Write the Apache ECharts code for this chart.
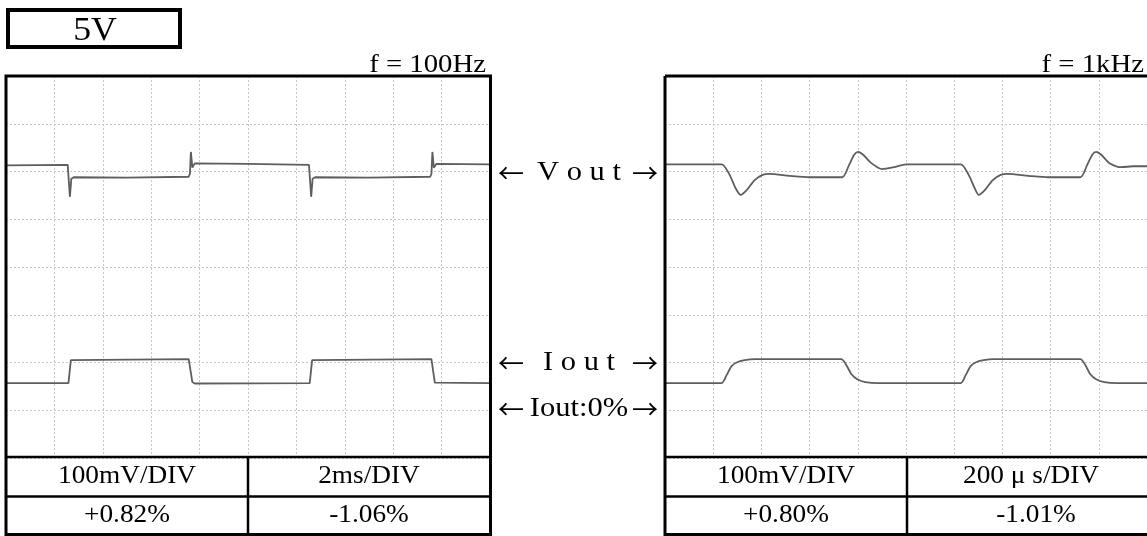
<!DOCTYPE html>
<html>
<head>
<meta charset="utf-8">
<script src="https://cdn.jsdelivr.net/npm/echarts@6/dist/echarts.min.js"></script>
<style>
  html, body { margin: 0; padding: 0; background: #fff; }
  #chart { width: 1147px; height: 536px; }
</style>
</head>
<body>
<div id="chart"></div>
<script>
// Oscilloscope traces, y in divisions (0..8), x in time units of each panel
// f = 100Hz panel: x in ms (2ms/DIV, 10 divisions)
const vout100 = [
  [0, 6.13], [2.55, 6.14], [2.60, 6.10], [2.64, 5.47], [2.70, 5.85], [2.80, 5.88],
  [5.0, 5.87], [7.55, 5.89], [7.60, 5.95], [7.64, 6.41], [7.70, 6.08], [7.80, 6.17],
  [10.0, 6.16], [12.52, 6.14], [12.57, 6.10], [12.61, 5.47], [12.67, 5.85], [12.77, 5.88],
  [15.0, 5.87], [17.53, 5.89], [17.58, 5.95], [17.62, 6.41], [17.68, 6.08], [17.78, 6.16],
  [20.0, 6.15]
];
const iout100 = [
  [0, 1.57], [2.58, 1.57], [2.68, 2.05], [2.75, 2.07], [7.55, 2.07], [7.60, 2.05],
  [7.70, 1.59], [7.80, 1.56], [12.55, 1.57], [12.65, 2.05], [12.72, 2.07], [17.58, 2.07],
  [17.62, 2.05], [17.72, 1.58], [20.0, 1.57]
];
// f = 1kHz panel: x in µs (200µs/DIV, 10 divisions)
const vout1k = [
  [0, 6.15], [235, 6.15], [268, 5.93], [293, 5.65], [314, 5.51], [339, 5.61], [372, 5.82],
  [405, 5.93], [434, 5.95], [516, 5.91], [599, 5.88], [735, 5.88], [764, 6.14], [785, 6.35],
  [802, 6.41], [822, 6.35], [855, 6.18], [901, 6.05], [950, 6.09], [1000, 6.15],
  [1227, 6.15], [1260, 5.93], [1285, 5.65], [1302, 5.51], [1327, 5.61], [1360, 5.82],
  [1393, 5.93], [1421, 5.95], [1508, 5.91], [1591, 5.88], [1723, 5.88], [1752, 6.14],
  [1773, 6.35], [1789, 6.41], [1810, 6.35], [1843, 6.18], [1893, 6.09], [1942, 6.11], [2000, 6.11]
];
const iout1k = [
  [0, 1.57], [235, 1.57], [256, 1.74], [277, 1.93], [302, 2.01], [331, 2.05], [372, 2.07],
  [731, 2.07], [752, 1.95], [773, 1.76], [798, 1.65], [831, 1.59], [888, 1.57],
  [1227, 1.57], [1248, 1.74], [1269, 1.93], [1293, 2.01], [1322, 2.05], [1364, 2.07],
  [1723, 2.07], [1744, 1.95], [1764, 1.76], [1789, 1.65], [1822, 1.59], [1880, 1.57], [2000, 1.57]
];

const supplyLabel = '5V';
const freqLabels = ['f = 100Hz', 'f = 1kHz'];
const traceLabels = ['V o u t', 'I o u t', 'Iout:0%'];
const voltScale = ['100mV/DIV', '100mV/DIV'];
const timeScale = ['2ms/DIV', '200 μ s/DIV'];
const voutRegulation = ['+0.82%', '+0.80%'];
const ioutRegulation = ['-1.06%', '-1.01%'];

const SERIF = '"Liberation Serif", "Times New Roman", serif';
const ARROWS = '"Noto Sans CJK JP", "DejaVu Sans", sans-serif';
const traceColor = '#5e5e5e';
const gridDots = { color: '#c6c6c6', width: 1, type: [2, 2] };

function xAxisFor(idx, max, interval) {
  return {
    gridIndex: idx, type: 'value', min: 0, max: max, interval: interval,
    axisLine: { show: false }, axisTick: { show: false }, axisLabel: { show: false },
    splitLine: { show: true, lineStyle: gridDots }
  };
}
function yAxisFor(idx) {
  return {
    gridIndex: idx, type: 'value', min: 0, max: 8, interval: 1,
    axisLine: { show: false }, axisTick: { show: false }, axisLabel: { show: false },
    splitLine: { show: true, lineStyle: gridDots }
  };
}
function trace(idx, data, smooth) {
  return {
    type: 'line', xAxisIndex: idx, yAxisIndex: idx, data: data,
    showSymbol: false, smooth: smooth,
    lineStyle: { color: traceColor, width: 1.8 }, animation: false, silent: true
  };
}
function txt(text, x, y, size, align, sx, family) {
  return {
    type: 'text', x: x, y: y, scaleX: sx || 1, z: 100,
    style: { text: text, font: size + 'px ' + (family || SERIF), fill: '#000', align: align || 'center', verticalAlign: 'middle' }
  };
}
function ln(x1, y1, x2, y2, w) {
  return { type: 'line', z: 100, shape: { x1: x1, y1: y1, x2: x2, y2: y2 }, style: { stroke: '#000', lineWidth: w } };
}
// label flanked by arrows pointing at both panels
function marker(label, y, sx) {
  return [
    txt('←', 511, y, 26, 'center', 1.0, ARROWS),
    txt(label, 579, y, 27, 'center', sx),
    txt('→', 645, y, 26, 'center', 1.0, ARROWS)
  ];
}

const chart = echarts.init(document.getElementById('chart'), null, { renderer: 'canvas' });

const graphics = [
  // supply voltage box
  { type: 'rect', z: 100, shape: { x: 8, y: 10, width: 172, height: 37 }, style: { fill: 'none', stroke: '#000', lineWidth: 4 } },
  txt(supplyLabel, 95, 31, 34, 'center', 1.05),
  // frequency headers
  txt(freqLabels[0], 486, 65, 25, 'right', 1.15),
  txt(freqLabels[1], 1144, 65, 25, 'right', 1.15),
  // left panel frame and table
  { type: 'rect', z: 100, shape: { x: 6, y: 76, width: 484.5, height: 458.5 }, style: { fill: 'none', stroke: '#000', lineWidth: 3 } },
  ln(6, 457, 490.5, 457, 2.5),
  ln(6, 496.5, 490.5, 496.5, 2.5),
  ln(248, 457, 248, 535, 2.5),
  // right panel frame and table
  ln(665, 76, 1149, 76, 3),
  ln(665, 76, 665, 536, 3),
  ln(665, 534.5, 1149, 534.5, 3),
  ln(665, 457, 1149, 457, 2.5),
  ln(665, 496.5, 1149, 496.5, 2.5),
  ln(907, 457, 907, 535, 2.5),
  // table texts
  txt(voltScale[0], 127, 476.5, 26, 'center', 1.05),
  txt(timeScale[0], 369, 476.5, 26, 'center', 1.05),
  txt(voutRegulation[0], 127, 515.5, 26, 'center', 1.05),
  txt(ioutRegulation[0], 369, 515.5, 26, 'center', 1.05),
  txt(voltScale[1], 786, 476.5, 26, 'center', 1.05),
  txt(timeScale[1], 1031, 476.5, 26, 'center', 1.05),
  txt(voutRegulation[1], 786, 515.5, 26, 'center', 1.05),
  txt(ioutRegulation[1], 1036, 515.5, 26, 'center', 1.05)
].concat(
  marker(traceLabels[0], 173, 1.13),
  marker(traceLabels[1], 363, 1.13),
  marker(traceLabels[2], 409, 1.13)
);

chart.setOption({
  animation: false,
  backgroundColor: '#fff',
  grid: [
    { left: 6, top: 76, width: 484, height: 382, containLabel: false },
    { left: 665, top: 76, width: 484, height: 382, containLabel: false }
  ],
  xAxis: [xAxisFor(0, 20, 2), xAxisFor(1, 2000, 200)],
  yAxis: [yAxisFor(0), yAxisFor(1)],
  series: [
    trace(0, vout100, false),
    trace(0, iout100, false),
    trace(1, vout1k, 0.25),
    trace(1, iout1k, 0.25)
  ],
  graphic: { elements: graphics }
});
</script>
</body>
</html>
